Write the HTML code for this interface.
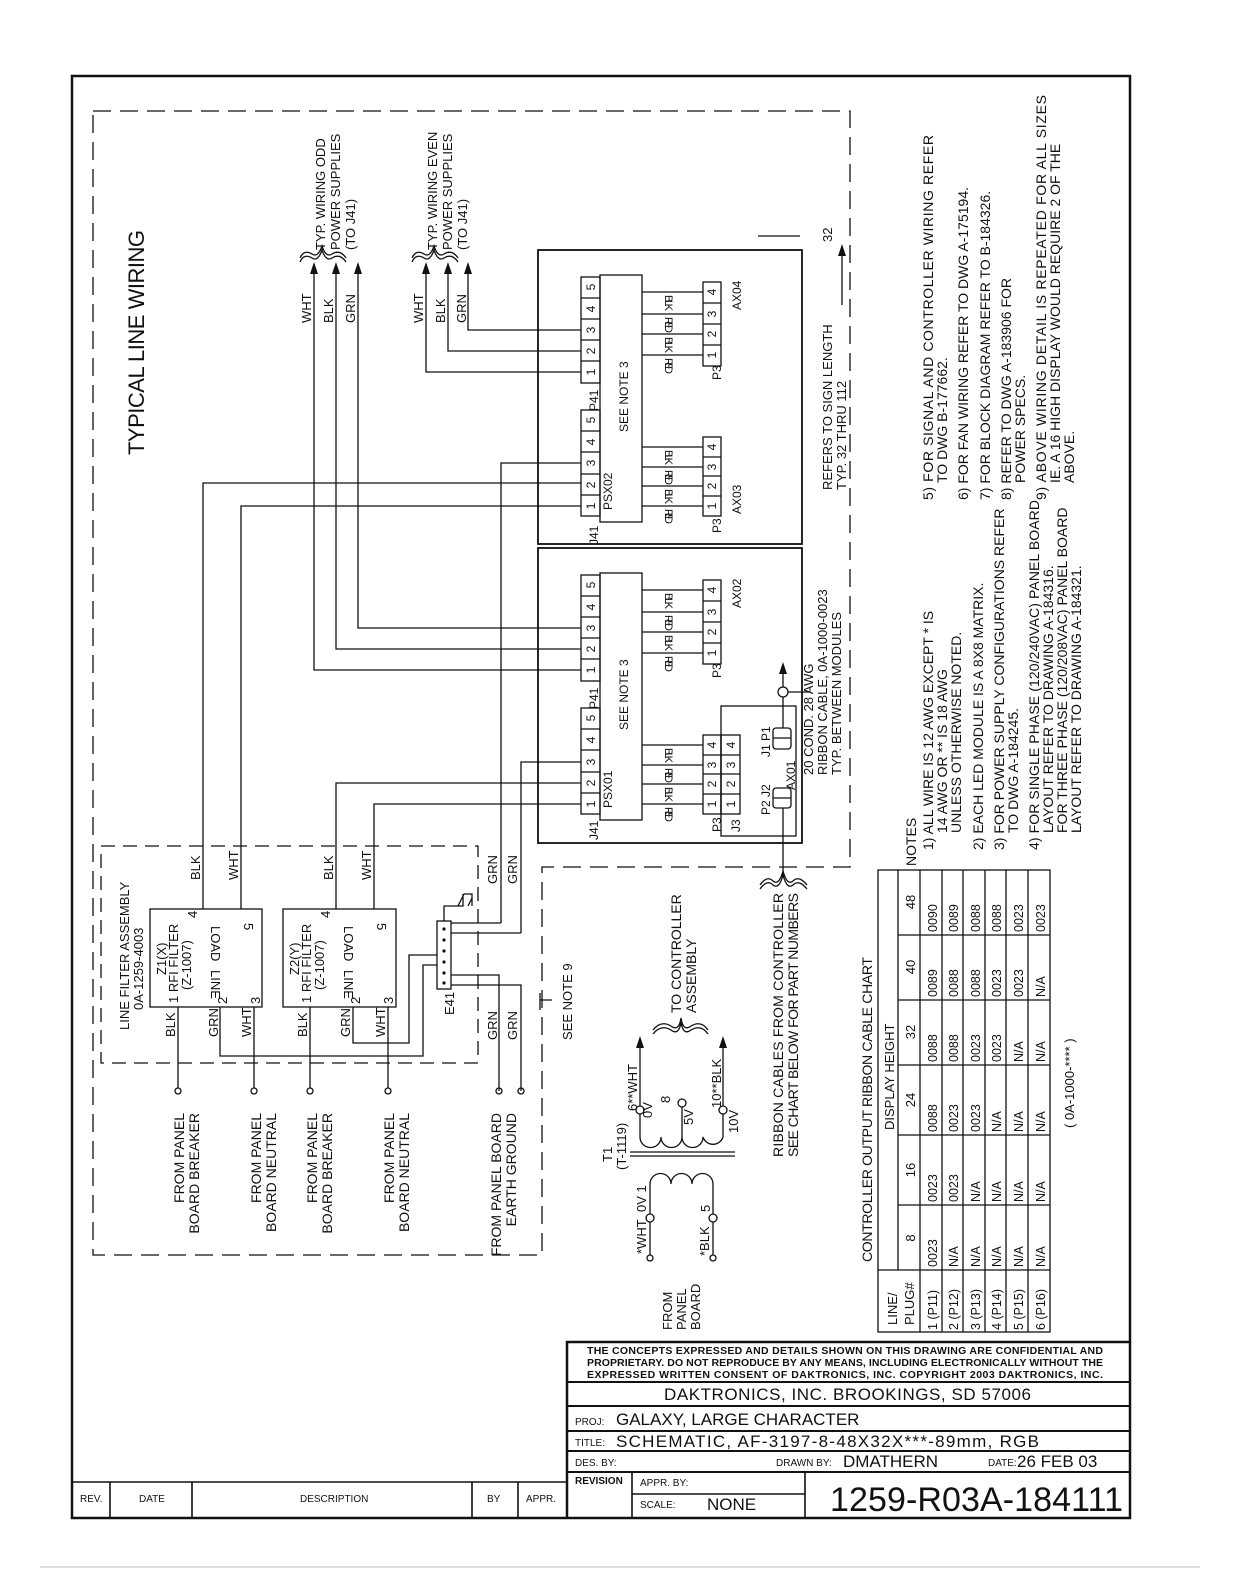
<!DOCTYPE html>
<html><head><meta charset="utf-8"><style>
html,body{margin:0;padding:0;background:#fff}
svg{display:block}
text{font-family:"Liberation Sans",sans-serif;fill:#111}
</style></head><body>
<svg width="1234" height="1585" viewBox="0 0 1234 1585" xmlns="http://www.w3.org/2000/svg">
<g fill="none" stroke="#111" stroke-width="1.3">
<rect x="72" y="76" width="1058" height="1442" stroke-width="2.5"/>
<path d="M93 111 H850 V867 H542 V1255 H93 Z" stroke-dasharray="18 9"/>
<path d="M101 846 H478 V1063 H101 Z" stroke-dasharray="14 8"/>
<rect x="538" y="250" width="264" height="294" stroke-width="1.8"/>
<rect x="538" y="548" width="264" height="295" stroke-width="1.8"/>
<path d="M314 267 V670 H581 M336 267 V649 H581 M358 267 V628 H581"/>
<path d="M426 267 V372 H581 M448 267 V351 H581 M468 267 V330 H581"/>
<path d="M203 909 V483 H581 M241 909 V506 H581 M336 909 V783 H581 M374 909 V804 H581"/>
<path d="M501 923 V463 H581 M521 933 V762 H581"/>
<path d="M451 923 H501 M451 933 H521 M451 975 H499 V1091 M451 985 H521 V1091"/>
<rect x="150" y="909" width="112" height="98"/>
<rect x="283" y="909" width="113" height="98"/>
<path d="M178 1007 V1088 M254 1007 V1088 M310 1007 V1088 M388 1007 V1088"/>
<path d="M220 1007 V1056 H423 V965 H437 M353 1007 V1043 H409 V955 H437"/>
<rect x="437" y="921" width="14" height="68"/>
<path d="M444 921 V906 H463 V894 M458 906 l6 -12 h8 v12 M468 906 l4 -8"/>
<circle cx="178" cy="1091" r="3"/><circle cx="254" cy="1091" r="3"/><circle cx="310" cy="1091" r="3"/><circle cx="388" cy="1091" r="3"/><circle cx="499" cy="1091" r="3"/><circle cx="521" cy="1091" r="3"/>
<path d="M540 1000 H552 M540 993 V1010"/>
<rect x="581" y="277" width="19" height="106"/><path d="M581 298 H600 M581 319 H600 M581 340 H600 M581 361 H600"/>
<rect x="581" y="410" width="19" height="106"/><path d="M581 431 H600 M581 452 H600 M581 474 H600 M581 495 H600"/>
<rect x="600" y="275" width="42" height="247"/>
<rect x="703" y="282" width="18" height="84"/><path d="M703 303 H721 M703 324 H721 M703 345 H721"/>
<rect x="703" y="437" width="18" height="79"/><path d="M703 457 H721 M703 476 H721 M703 496 H721"/>
<path d="M642 292 H703 M642 314 H703 M642 334 H703 M642 355 H703 M642 447 H703 M642 467 H703 M642 486 H703 M642 506 H703"/>
<rect x="581" y="575" width="19" height="106"/><path d="M581 596 H600 M581 617 H600 M581 638 H600 M581 659 H600"/>
<rect x="581" y="708" width="19" height="106"/><path d="M581 729 H600 M581 750 H600 M581 772 H600 M581 793 H600"/>
<rect x="600" y="573" width="42" height="247"/>
<rect x="703" y="580" width="18" height="84"/><path d="M703 601 H721 M703 622 H721 M703 643 H721"/>
<rect x="703" y="735" width="18" height="79"/><path d="M703 755 H721 M703 774 H721 M703 794 H721"/>
<path d="M642 590 H703 M642 612 H703 M642 632 H703 M642 653 H703 M642 745 H703 M642 765 H703 M642 784 H703 M642 804 H703"/>
<rect x="721" y="706" width="75" height="130"/>
<rect x="721" y="735" width="19" height="79"/><path d="M721 755 H740 M721 774 H740 M721 794 H740"/>
<rect x="773" y="728" width="18" height="21" rx="3"/><path d="M773 738 H791"/>
<rect x="773" y="788" width="18" height="20" rx="3"/><path d="M773 798 H791"/>
<circle cx="783" cy="692" r="5"/>
<path d="M783 728 V697 M783 687 V670 M788 692 H810 M783 808 V872"/>
<path d="M758 236 H800"/>
<path d="M630 1152 H735 M630 1156 H735"/>
<path d="M640 1114 V1137 a10.5 10.5 0 0 0 21 0 a10.5 10.5 0 0 0 21 0 a10.5 10.5 0 0 0 21 0 a10.5 10.5 0 0 0 20 0 V1114 M682 1107 V1137"/>
<circle cx="640" cy="1110" r="4"/><circle cx="682" cy="1103" r="4"/><circle cx="723" cy="1110" r="4"/>
<path d="M640 1106 V1045 M723 1106 V1045"/>
<path d="M650 1214 V1184 a10.5 10.5 0 0 1 21 0 a10.5 10.5 0 0 1 21 0 a10.5 10.5 0 0 1 21 0 V1214"/>
<circle cx="650" cy="1218" r="4"/><circle cx="713" cy="1218" r="4"/>
<path d="M650 1222 V1255 M713 1222 V1255"/>
<circle cx="650" cy="1258" r="3"/><circle cx="713" cy="1258" r="3"/>
<path d="M653 1030 q8 -10 18 -4 q8 6 10 -8 q2 14 10 8 q10 -6 17 4 M653 1034 q8 -10 18 -4 q8 6 10 -8 q2 14 10 8 q10 -6 17 4"/>
<path d="M760 885 q7 -10 13 -4 q6 5 10 -10 q4 15 10 10 q6 -6 14 4 M760 889 q7 -10 13 -4 q6 5 10 -10 q4 15 10 10 q6 -6 14 4"/>
<path d="M300 258 q4 -9 12 -4 q6 4 10 -8 q4 12 10 8 q8 -5 14 4 M300 262 q4 -9 12 -4 q6 4 10 -8 q4 12 10 8 q8 -5 14 4"/>
<path d="M412 258 q4 -9 12 -4 q6 4 10 -8 q4 12 10 8 q8 -5 14 4 M412 262 q4 -9 12 -4 q6 4 10 -8 q4 12 10 8 q8 -5 14 4"/>
<rect x="878" y="870" width="172" height="462"/>
<path d="M920 870 V1332 M942 870 V1332 M963 870 V1332 M985 870 V1332 M1006 870 V1332 M1028 870 V1332"/>
<path d="M898 870 V1270 M878 1270 H1050 M898 1205 H1050 M898 1135 H1050 M898 1065 H1050 M898 1000 H1050 M898 935 H1050"/>
<path d="M567 1518 V1342 H1130" stroke-width="2.5"/>
<path d="M567 1382 H1130 M567 1406 H1130 M567 1431 H1130 M567 1451 H1130 M567 1472 H1130" stroke-width="2"/>
<path d="M632 1472 V1518 M805 1472 V1518 M632 1494 H805" stroke-width="1.6"/>
<path d="M72 1482 H567 M110 1482 V1518 M192 1482 V1518 M472 1482 V1518 M518 1482 V1518" stroke-width="1.6"/>
<path d="M40 1567 H1200" stroke="#bbb" stroke-width="1"/>
<path d="M842 305 V250"/>
</g>
<g fill="#111">
<path d="M314 262 l-4 12 h8z M336 262 l-4 12 h8z M358 262 l-4 12 h8z M426 262 l-4 12 h8z M448 262 l-4 12 h8z M468 262 l-4 12 h8z"/>
<path d="M842 244 l-4 12 h8z M783 662 l-4 12 h8z M640 1036 l-4 12 h8z M723 1036 l-4 12 h8z"/>
<circle cx="444" cy="929" r="1.6"/><circle cx="444" cy="940" r="1.6"/><circle cx="444" cy="951" r="1.6"/><circle cx="444" cy="962" r="1.6"/><circle cx="444" cy="973" r="1.6"/><circle cx="444" cy="983" r="1.6"/>
</g>

<g font-size="13">
<text x="144" y="455" font-size="22" transform="rotate(-90 144 455)" textLength="225">TYPICAL LINE WIRING</text>
<text x="325" y="250" transform="rotate(-90 325 250)">TYP. WIRING ODD</text>
<text x="340" y="250" transform="rotate(-90 340 250)">POWER SUPPLIES</text>
<text x="355" y="250" transform="rotate(-90 355 250)">(TO J41)</text>
<text x="437" y="250" transform="rotate(-90 437 250)">TYP. WIRING EVEN</text>
<text x="452" y="250" transform="rotate(-90 452 250)">POWER SUPPLIES</text>
<text x="467" y="250" transform="rotate(-90 467 250)">(TO J41)</text>
<text x="311" y="323" transform="rotate(-90 311 323)">WHT</text>
<text x="333" y="323" transform="rotate(-90 333 323)">BLK</text>
<text x="355" y="323" transform="rotate(-90 355 323)">GRN</text>
<text x="423" y="323" transform="rotate(-90 423 323)">WHT</text>
<text x="445" y="323" transform="rotate(-90 445 323)">BLK</text>
<text x="466" y="323" transform="rotate(-90 466 323)">GRN</text>

<text x="129" y="1030" transform="rotate(-90 129 1030)">LINE FILTER ASSEMBLY</text>
<text x="143" y="1010" transform="rotate(-90 143 1010)">0A-1259-4003</text>
<text x="200" y="880" transform="rotate(-90 200 880)">BLK</text>
<text x="238" y="880" transform="rotate(-90 238 880)">WHT</text>
<text x="333" y="880" transform="rotate(-90 333 880)">BLK</text>
<text x="371" y="880" transform="rotate(-90 371 880)">WHT</text>
<text x="497" y="884" transform="rotate(-90 497 884)">GRN</text>
<text x="517" y="884" transform="rotate(-90 517 884)">GRN</text>
<text x="497" y="1040" transform="rotate(-90 497 1040)">GRN</text>
<text x="517" y="1040" transform="rotate(-90 517 1040)">GRN</text>
<text x="175" y="1037" transform="rotate(-90 175 1037)">BLK</text>
<text x="218" y="1037" transform="rotate(-90 218 1037)">GRN</text>
<text x="251" y="1037" transform="rotate(-90 251 1037)">WHT</text>
<text x="307" y="1037" transform="rotate(-90 307 1037)">BLK</text>
<text x="350" y="1037" transform="rotate(-90 350 1037)">GRN</text>
<text x="385" y="1037" transform="rotate(-90 385 1037)">WHT</text>
<text x="454" y="1015" transform="rotate(-90 454 1015)">E41</text>
<text x="166" y="975" transform="rotate(-90 166 975)">Z1(X)</text>
<text x="178" y="1003" transform="rotate(-90 178 1003)">1 RFI FILTER</text>
<text x="191" y="990" transform="rotate(-90 191 990)">(Z-1007)</text>
<text x="197" y="918" transform="rotate(-90 197 918)">4</text>
<text x="227" y="1004" transform="rotate(-90 227 1004)">2</text>
<text x="260" y="1004" transform="rotate(-90 260 1004)">3</text>
<text x="244" y="923" transform="rotate(90 244 923)">5</text>
<text x="211" y="926" transform="rotate(90 211 926)">LOAD</text>
<text x="211" y="970" transform="rotate(90 211 970)">LINE</text>
<text x="299" y="975" transform="rotate(-90 299 975)">Z2(Y)</text>
<text x="311" y="1003" transform="rotate(-90 311 1003)">1 RFI FILTER</text>
<text x="324" y="990" transform="rotate(-90 324 990)">(Z-1007)</text>
<text x="330" y="918" transform="rotate(-90 330 918)">4</text>
<text x="360" y="1004" transform="rotate(-90 360 1004)">2</text>
<text x="393" y="1004" transform="rotate(-90 393 1004)">3</text>
<text x="377" y="923" transform="rotate(90 377 923)">5</text>
<text x="344" y="926" transform="rotate(90 344 926)">LOAD</text>
<text x="344" y="970" transform="rotate(90 344 970)">LINE</text>

<g text-anchor="end" font-size="14">
<text x="184" y="1113" transform="rotate(-90 184 1113)">FROM PANEL</text>
<text x="199" y="1113" transform="rotate(-90 199 1113)">BOARD BREAKER</text>
<text x="261" y="1113" transform="rotate(-90 261 1113)">FROM PANEL</text>
<text x="276" y="1113" transform="rotate(-90 276 1113)">BOARD NEUTRAL</text>
<text x="317" y="1113" transform="rotate(-90 317 1113)">FROM PANEL</text>
<text x="332" y="1113" transform="rotate(-90 332 1113)">BOARD BREAKER</text>
<text x="394" y="1113" transform="rotate(-90 394 1113)">FROM PANEL</text>
<text x="409" y="1113" transform="rotate(-90 409 1113)">BOARD NEUTRAL</text>
<text x="501" y="1113" transform="rotate(-90 501 1113)">FROM PANEL BOARD</text>
<text x="516" y="1113" transform="rotate(-90 516 1113)">EARTH GROUND</text>
</g>
<text x="572" y="1040" transform="rotate(-90 572 1040)">SEE NOTE 9</text>

<g font-size="12" text-anchor="middle">
<text x="595" y="287" transform="rotate(-90 595 287)">5</text><text x="595" y="309" transform="rotate(-90 595 309)">4</text><text x="595" y="330" transform="rotate(-90 595 330)">3</text><text x="595" y="351" transform="rotate(-90 595 351)">2</text><text x="595" y="372" transform="rotate(-90 595 372)">1</text>
<text x="595" y="420" transform="rotate(-90 595 420)">5</text><text x="595" y="442" transform="rotate(-90 595 442)">4</text><text x="595" y="463" transform="rotate(-90 595 463)">3</text><text x="595" y="485" transform="rotate(-90 595 485)">2</text><text x="595" y="506" transform="rotate(-90 595 506)">1</text>
<text x="716" y="292" transform="rotate(-90 716 292)">4</text><text x="716" y="314" transform="rotate(-90 716 314)">3</text><text x="716" y="334" transform="rotate(-90 716 334)">2</text><text x="716" y="355" transform="rotate(-90 716 355)">1</text>
<text x="716" y="447" transform="rotate(-90 716 447)">4</text><text x="716" y="467" transform="rotate(-90 716 467)">3</text><text x="716" y="486" transform="rotate(-90 716 486)">2</text><text x="716" y="506" transform="rotate(-90 716 506)">1</text>
<text x="595" y="585" transform="rotate(-90 595 585)">5</text><text x="595" y="607" transform="rotate(-90 595 607)">4</text><text x="595" y="628" transform="rotate(-90 595 628)">3</text><text x="595" y="649" transform="rotate(-90 595 649)">2</text><text x="595" y="670" transform="rotate(-90 595 670)">1</text>
<text x="595" y="718" transform="rotate(-90 595 718)">5</text><text x="595" y="740" transform="rotate(-90 595 740)">4</text><text x="595" y="762" transform="rotate(-90 595 762)">3</text><text x="595" y="783" transform="rotate(-90 595 783)">2</text><text x="595" y="804" transform="rotate(-90 595 804)">1</text>
<text x="716" y="590" transform="rotate(-90 716 590)">4</text><text x="716" y="612" transform="rotate(-90 716 612)">3</text><text x="716" y="632" transform="rotate(-90 716 632)">2</text><text x="716" y="653" transform="rotate(-90 716 653)">1</text>
<text x="716" y="745" transform="rotate(-90 716 745)">4</text><text x="716" y="765" transform="rotate(-90 716 765)">3</text><text x="716" y="784" transform="rotate(-90 716 784)">2</text><text x="716" y="804" transform="rotate(-90 716 804)">1</text>
<text x="735" y="745" transform="rotate(-90 735 745)">4</text><text x="735" y="765" transform="rotate(-90 735 765)">3</text><text x="735" y="784" transform="rotate(-90 735 784)">2</text><text x="735" y="804" transform="rotate(-90 735 804)">1</text>
</g>
<g font-size="12">
<text x="612" y="510" transform="rotate(-90 612 510)">PSX02</text>
<text x="628" y="432" transform="rotate(-90 628 432)">SEE NOTE 3</text>
<text x="598" y="545" transform="rotate(-90 598 545)">J41</text>
<text x="598" y="411" transform="rotate(-90 598 411)">P41</text>
<text x="721" y="380" transform="rotate(-90 721 380)">P3</text>
<text x="721" y="533" transform="rotate(-90 721 533)">P3</text>
<text x="741" y="310" transform="rotate(-90 741 310)">AX04</text>
<text x="741" y="514" transform="rotate(-90 741 514)">AX03</text>
<text x="612" y="808" transform="rotate(-90 612 808)">PSX01</text>
<text x="628" y="730" transform="rotate(-90 628 730)">SEE NOTE 3</text>
<text x="598" y="840" transform="rotate(-90 598 840)">J41</text>
<text x="598" y="709" transform="rotate(-90 598 709)">P41</text>
<text x="721" y="678" transform="rotate(-90 721 678)">P3</text>
<text x="721" y="832" transform="rotate(-90 721 832)">P3</text>
<text x="740" y="832" transform="rotate(-90 740 832)">J3</text>
<text x="741" y="608" transform="rotate(-90 741 608)">AX02</text>
<text x="770" y="757" transform="rotate(-90 770 757)">J1 P1</text>
<text x="770" y="815" transform="rotate(-90 770 815)">P2 J2</text>
<text x="795" y="790" transform="rotate(-90 795 790)">AX01</text>
<g font-size="11">
<text x="665" y="295" textLength="16" transform="rotate(90 665 295)">BLK</text><text x="665" y="317" textLength="16" transform="rotate(90 665 317)">RED</text><text x="665" y="337" textLength="16" transform="rotate(90 665 337)">BLK</text><text x="665" y="358" textLength="16" transform="rotate(90 665 358)">RED</text>
<text x="665" y="450" textLength="15" transform="rotate(90 665 450)">BLK</text><text x="665" y="470" textLength="15" transform="rotate(90 665 470)">RED</text><text x="665" y="489" textLength="15" transform="rotate(90 665 489)">BLK</text><text x="665" y="509" textLength="15" transform="rotate(90 665 509)">RED</text>
<text x="665" y="593" textLength="16" transform="rotate(90 665 593)">BLK</text><text x="665" y="615" textLength="16" transform="rotate(90 665 615)">RED</text><text x="665" y="635" textLength="16" transform="rotate(90 665 635)">BLK</text><text x="665" y="656" textLength="16" transform="rotate(90 665 656)">RED</text>
<text x="665" y="748" textLength="15" transform="rotate(90 665 748)">BLK</text><text x="665" y="768" textLength="15" transform="rotate(90 665 768)">RED</text><text x="665" y="787" textLength="15" transform="rotate(90 665 787)">BLK</text><text x="665" y="807" textLength="15" transform="rotate(90 665 807)">RED</text>
</g>
</g>
<text x="813" y="775" transform="rotate(-90 813 775)">20 COND. 28 AWG</text>
<text x="827" y="775" transform="rotate(-90 827 775)">RIBBON CABLE,  0A-1000-0023</text>
<text x="841" y="775" transform="rotate(-90 841 775)">TYP. BETWEEN MODULES</text>
<text x="832" y="490" transform="rotate(-90 832 490)">REFERS TO SIGN LENGTH</text>
<text x="846" y="490" transform="rotate(-90 846 490)">TYP. 32 THRU 112</text>
<text x="832" y="242" transform="rotate(-90 832 242)">32</text>

<text x="612" y="1162" transform="rotate(-90 612 1162)">T1</text>
<text x="626" y="1170" transform="rotate(-90 626 1170)">(T-1119)</text>
<text x="637" y="1111" transform="rotate(-90 637 1111)">6**WHT</text>
<text x="652" y="1118" transform="rotate(-90 652 1118)">0V</text>
<text x="670" y="1103" transform="rotate(-90 670 1103)">8</text>
<text x="693" y="1125" transform="rotate(-90 693 1125)">5V</text>
<text x="721" y="1108" transform="rotate(-90 721 1108)">10**BLK</text>
<text x="738" y="1133" transform="rotate(-90 738 1133)">10V</text>
<text x="646" y="1212" transform="rotate(-90 646 1212)">0V 1</text>
<text x="646" y="1254" transform="rotate(-90 646 1254)">*WHT</text>
<text x="710" y="1212" transform="rotate(-90 710 1212)">5</text>
<text x="709" y="1256" transform="rotate(-90 709 1256)">*BLK</text>
<text x="672" y="1330" transform="rotate(-90 672 1330)">FROM</text>
<text x="686" y="1330" transform="rotate(-90 686 1330)">PANEL</text>
<text x="700" y="1330" transform="rotate(-90 700 1330)">BOARD</text>
<text x="681" y="1013" font-size="14" transform="rotate(-90 681 1013)">TO CONTROLLER</text>
<text x="696" y="1013" font-size="14" transform="rotate(-90 696 1013)">ASSEMBLY</text>
<text x="783" y="1157" font-size="14" transform="rotate(-90 783 1157)" textLength="264">RIBBON CABLES FROM CONTROLLER</text>
<text x="798" y="1157" font-size="14" transform="rotate(-90 798 1157)" textLength="264">SEE CHART BELOW FOR PART NUMBERS</text>

<text x="872" y="1262" font-size="14" transform="rotate(-90 872 1262)" textLength="305">CONTROLLER OUTPUT RIBBON CABLE CHART</text>
<text x="894" y="1130" transform="rotate(-90 894 1130)">DISPLAY HEIGHT</text>
<text x="897" y="1325" transform="rotate(-90 897 1325)">LINE/</text>
<text x="914" y="1325" transform="rotate(-90 914 1325)">PLUG#</text>
<g text-anchor="middle">
<text x="915" y="1238" transform="rotate(-90 915 1238)">8</text>
<text x="915" y="1170" transform="rotate(-90 915 1170)">16</text>
<text x="915" y="1100" transform="rotate(-90 915 1100)">24</text>
<text x="915" y="1032" transform="rotate(-90 915 1032)">32</text>
<text x="915" y="967" transform="rotate(-90 915 967)">40</text>
<text x="915" y="902" transform="rotate(-90 915 902)">48</text>
</g>
<g font-size="12.5">
<text x="937" y="1330" transform="rotate(-90 937 1330)">1 (P11)</text>
<text x="958" y="1330" transform="rotate(-90 958 1330)">2 (P12)</text>
<text x="980" y="1330" transform="rotate(-90 980 1330)">3 (P13)</text>
<text x="1001" y="1330" transform="rotate(-90 1001 1330)">4 (P14)</text>
<text x="1023" y="1330" transform="rotate(-90 1023 1330)">5 (P15)</text>
<text x="1045" y="1330" transform="rotate(-90 1045 1330)">6 (P16)</text>
<text x="937" y="1267" transform="rotate(-90 937 1267)">0023</text><text x="958" y="1267" transform="rotate(-90 958 1267)">N/A</text><text x="980" y="1267" transform="rotate(-90 980 1267)">N/A</text><text x="1001" y="1267" transform="rotate(-90 1001 1267)">N/A</text><text x="1023" y="1267" transform="rotate(-90 1023 1267)">N/A</text><text x="1045" y="1267" transform="rotate(-90 1045 1267)">N/A</text>
<text x="937" y="1202" transform="rotate(-90 937 1202)">0023</text><text x="958" y="1202" transform="rotate(-90 958 1202)">0023</text><text x="980" y="1202" transform="rotate(-90 980 1202)">N/A</text><text x="1001" y="1202" transform="rotate(-90 1001 1202)">N/A</text><text x="1023" y="1202" transform="rotate(-90 1023 1202)">N/A</text><text x="1045" y="1202" transform="rotate(-90 1045 1202)">N/A</text>
<text x="937" y="1132" transform="rotate(-90 937 1132)">0088</text><text x="958" y="1132" transform="rotate(-90 958 1132)">0023</text><text x="980" y="1132" transform="rotate(-90 980 1132)">0023</text><text x="1001" y="1132" transform="rotate(-90 1001 1132)">N/A</text><text x="1023" y="1132" transform="rotate(-90 1023 1132)">N/A</text><text x="1045" y="1132" transform="rotate(-90 1045 1132)">N/A</text>
<text x="937" y="1062" transform="rotate(-90 937 1062)">0088</text><text x="958" y="1062" transform="rotate(-90 958 1062)">0088</text><text x="980" y="1062" transform="rotate(-90 980 1062)">0023</text><text x="1001" y="1062" transform="rotate(-90 1001 1062)">0023</text><text x="1023" y="1062" transform="rotate(-90 1023 1062)">N/A</text><text x="1045" y="1062" transform="rotate(-90 1045 1062)">N/A</text>
<text x="937" y="997" transform="rotate(-90 937 997)">0089</text><text x="958" y="997" transform="rotate(-90 958 997)">0088</text><text x="980" y="997" transform="rotate(-90 980 997)">0088</text><text x="1001" y="997" transform="rotate(-90 1001 997)">0023</text><text x="1023" y="997" transform="rotate(-90 1023 997)">0023</text><text x="1045" y="997" transform="rotate(-90 1045 997)">N/A</text>
<text x="937" y="932" transform="rotate(-90 937 932)">0090</text><text x="958" y="932" transform="rotate(-90 958 932)">0089</text><text x="980" y="932" transform="rotate(-90 980 932)">0088</text><text x="1001" y="932" transform="rotate(-90 1001 932)">0088</text><text x="1023" y="932" transform="rotate(-90 1023 932)">0023</text><text x="1045" y="932" transform="rotate(-90 1045 932)">0023</text>
</g>
<text x="1074" y="1128" transform="rotate(-90 1074 1128)">( 0A-1000-**** )</text>

<g font-size="14">
<text x="916" y="866" transform="rotate(-90 916 866)">NOTES</text>
<text x="933" y="850" transform="rotate(-90 933 850)">1) ALL WIRE IS 12 AWG EXCEPT * IS</text>
<text x="947" y="833" transform="rotate(-90 947 833)">14 AWG OR ** IS 18 AWG</text>
<text x="961" y="833" transform="rotate(-90 961 833)">UNLESS OTHERWISE NOTED.</text>
<text x="983" y="850" transform="rotate(-90 983 850)">2) EACH LED MODULE IS A 8X8 MATRIX.</text>
<text x="1004" y="850" transform="rotate(-90 1004 850)">3) FOR POWER SUPPLY CONFIGURATIONS REFER</text>
<text x="1018" y="833" transform="rotate(-90 1018 833)">TO DWG A-184245.</text>
<text x="1039" y="850" transform="rotate(-90 1039 850)" textLength="350">4) FOR SINGLE PHASE (120/240VAC) PANEL BOARD</text>
<text x="1053" y="833" transform="rotate(-90 1053 833)">LAYOUT REFER TO DRAWING A-184316.</text>
<text x="1067" y="833" transform="rotate(-90 1067 833)">FOR THREE PHASE (120/208VAC) PANEL BOARD</text>
<text x="1081" y="833" transform="rotate(-90 1081 833)">LAYOUT REFER TO DRAWING A-184321.</text>
<text x="933" y="500" transform="rotate(-90 933 500)" textLength="365">5) FOR SIGNAL AND CONTROLLER WIRING REFER</text>
<text x="947" y="483" transform="rotate(-90 947 483)">TO DWG B-177662.</text>
<text x="968" y="500" transform="rotate(-90 968 500)">6) FOR FAN WIRING REFER TO DWG A-175194.</text>
<text x="990" y="500" transform="rotate(-90 990 500)">7) FOR BLOCK DIAGRAM REFER TO B-184326.</text>
<text x="1011" y="500" transform="rotate(-90 1011 500)">8) REFER TO DWG A-183906 FOR</text>
<text x="1025" y="483" transform="rotate(-90 1025 483)">POWER SPECS.</text>
<text x="1046" y="500" transform="rotate(-90 1046 500)" textLength="405">9) ABOVE WIRING DETAIL IS REPEATED FOR ALL SIZES</text>
<text x="1060" y="483" transform="rotate(-90 1060 483)">IE. A 16 HIGH DISPLAY WOULD REQUIRE 2 OF THE</text>
<text x="1074" y="483" transform="rotate(-90 1074 483)">ABOVE.</text>
</g>
</g>

<g font-size="10.5" font-weight="bold">
<text x="587" y="1354" textLength="516">THE CONCEPTS  EXPRESSED  AND  DETAILS SHOWN ON THIS DRAWING ARE CONFIDENTIAL AND</text>
<text x="587" y="1366" textLength="516">PROPRIETARY.  DO NOT REPRODUCE BY ANY MEANS, INCLUDING ELECTRONICALLY WITHOUT THE</text>
<text x="587" y="1378" textLength="516">EXPRESSED WRITTEN CONSENT OF DAKTRONICS, INC.        COPYRIGHT 2003 DAKTRONICS, INC.</text>
</g>
<text x="664" y="1400" font-size="17" textLength="367">DAKTRONICS, INC.   BROOKINGS, SD 57006</text>
<text x="575" y="1425" font-size="10">PROJ:</text>
<text x="616" y="1425" font-size="17">GALAXY, LARGE CHARACTER</text>
<text x="575" y="1446" font-size="10">TITLE:</text>
<text x="616" y="1447" font-size="17" textLength="423">SCHEMATIC, AF-3197-8-48X32X***-89mm, RGB</text>
<text x="575" y="1466" font-size="10">DES. BY:</text>
<text x="776" y="1466" font-size="10">DRAWN BY:</text>
<text x="843" y="1467" font-size="17">DMATHERN</text>
<text x="988" y="1466" font-size="10">DATE:</text>
<text x="1017" y="1467" font-size="17">26 FEB 03</text>
<text x="575" y="1484" font-size="10" font-weight="bold">REVISION</text>
<text x="640" y="1486" font-size="10">APPR. BY:</text>
<text x="640" y="1508" font-size="10">SCALE:</text>
<text x="707" y="1510" font-size="17">NONE</text>
<text x="830" y="1511" font-size="34" textLength="293">1259-R03A-184111</text>
<g font-size="10">
<text x="80" y="1502">REV.</text>
<text x="139" y="1502">DATE</text>
<text x="300" y="1502">DESCRIPTION</text>
<text x="487" y="1502">BY</text>
<text x="526" y="1502">APPR.</text>
</g>
</svg>
</body></html>
